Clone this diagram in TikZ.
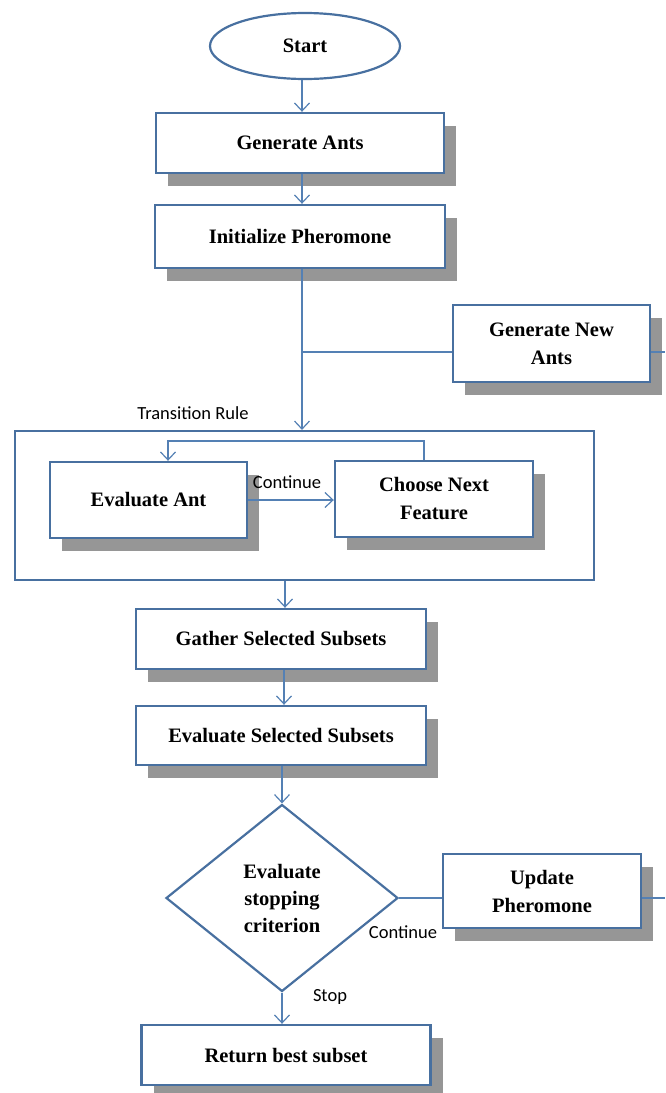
\documentclass[tikz,border=0pt]{standalone}
\usepackage{fontspec}
\setmainfont{Liberation Serif}
\newfontfamily\calibri{Carlito}
\usetikzlibrary{shapes.geometric,shadows,arrows.meta}
\definecolor{boxblue}{RGB}{72,112,160}
\definecolor{linkblue}{RGB}{84,128,180}
\definecolor{shade}{RGB}{150,150,150}
\tikzset{
  box/.style={draw=boxblue,line width=1.2pt,fill=white,align=center,inner sep=0pt,
    font=\bfseries\fontsize{10.25}{14}\selectfont,
    drop shadow={shadow xshift=6pt,shadow yshift=-6.5pt,fill=shade,opacity=1}},
  arr/.style={draw=linkblue,line width=0.6pt,-{Straight Barb[length=4pt,width=7.5pt]}},
  link/.style={draw=linkblue,line width=0.6pt},
  lbl/.style={font=\calibri\fontsize{9.25}{11}\selectfont,inner sep=0pt}
}
\begin{document}
\begin{tikzpicture}[x=0.5pt,y=-0.5pt]
    \useasboundingbox (0,0) rectangle (665,1093);
    % main column
    \node[ellipse,draw=boxblue,line width=1.1pt,minimum width=95pt,minimum height=33pt,inner sep=0pt,
        font=\bfseries\fontsize{10.25}{14}\selectfont] (start) at (305,46) {Start};
    \node[box,minimum width=144pt,minimum height=30pt] (genants) at (300,143) {Generate Ants};
    \node[box,minimum width=145pt,minimum height=31.5pt] (initpher) at (300,236.5) {Initialize Pheromone};
    \node[box,minimum width=98.5pt,minimum height=38.5pt] (newants) at (551.5,343.5) {Generate New\\Ants};
    % transition rule frame
    \node[draw=boxblue,line width=1.1pt,minimum width=289.5pt,minimum height=74.5pt,inner sep=0pt] (frame) at (304.5,505.5) {};
    \node[box,minimum width=98.5pt,minimum height=38pt] (evalant) at (148.5,500) {Evaluate Ant};
    \node[box,minimum width=99pt,minimum height=38pt] (choose) at (434,499) {Choose Next\\Feature};
    \node[box,minimum width=145pt,minimum height=30pt] (gather) at (281,639) {Gather Selected Subsets};
    \node[box,minimum width=145pt,minimum height=29.5pt] (evalsel) at (281,735.5) {Evaluate Selected Subsets};
    \node[diamond,draw=boxblue,line width=1.1pt,minimum width=116pt,minimum height=93.5pt,inner sep=0pt,align=center,
        font=\bfseries\fontsize{10.25}{13.5}\selectfont] (stopcrit) at (282,898) {Evaluate\\stopping\\criterion};
    \node[box,minimum width=99pt,minimum height=37pt] (update) at (542,891) {Update\\Pheromone};
    \node[box,minimum width=144.5pt,minimum height=30pt] (retbest) at (286,1055) {Return best subset};
    % labels
    \node[lbl] (trlabel) at (193,413) {Transition Rule};
    \node[lbl] (contin) at (287,482) {Continue};
    \node[lbl] (contout) at (403,932) {Continue};
    \node[lbl] (stoplabel) at (330,997) {Stop};
    % connectors
    \coordinate (split) at (302,352);
    \coordinate (exitnew) at (665,352);
    \coordinate (exitupd) at (665,898);
    \coordinate (looptop) at (424,441);
    \coordinate (loopleft) at (168,441);
    \draw[arr] (start.south -| split) -- (split |- genants.north);
    \draw[arr] (genants.south -| split) -- (split |- initpher.north);
    \draw[link] (initpher.south -| split) -- (split);
    \draw[arr] (split) -- (split |- frame.north);
    \draw[link] (split) -- (split -| newants.west);
    \draw[link] (split -| newants.east) -- (exitnew);
    \draw[arr] (looptop |- choose.north) -- (looptop) -- (loopleft) -- (loopleft |- evalant.north);
    \draw[arr] (evalant.east) -- (evalant.east -| choose.west);
    \draw[arr] (frame.south -| 285,0) -- (285,0 |- gather.north);
    \draw[arr] (gather.south -| 284,0) -- (284,0 |- evalsel.north);
    \draw[arr] (evalsel.south -| stopcrit.north) -- (stopcrit.north);
    \draw[link] (stopcrit.east) -- (stopcrit.east -| update.west);
    \draw[link] (stopcrit.east -| update.east) -- (exitupd);
    \draw[arr] (stopcrit.south) -- (stopcrit.south |- retbest.north);
\end{tikzpicture}
\end{document}
